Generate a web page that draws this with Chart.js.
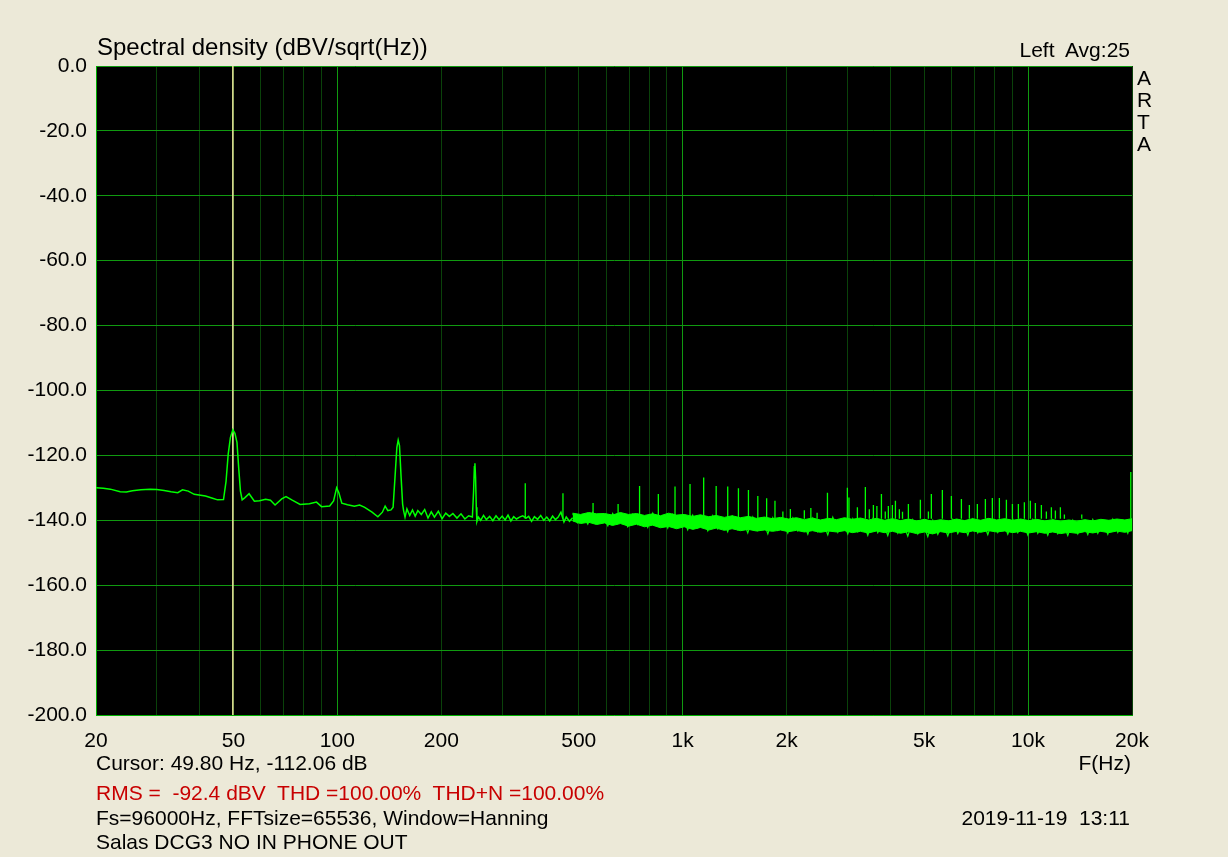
<!DOCTYPE html>
<html lang="en">
<head>
    <meta charset="UTF-8">
    <title>Spectral density</title>
    <script src="https://cdn.jsdelivr.net/npm/chart.js"></script>
    <style>
        body {
            margin: 0;
            background-color: #ECE9D8;
            font-family: "Liberation Sans", Arial, sans-serif;
        }

        #wrap {
            position: relative;
            width: 1228px;
            height: 857px;
        }

        .lbl {
            position: absolute;
            font-size: 21px;
            line-height: 1;
            color: #000;
            white-space: pre;
        }

        .red {
            color: #c80000;
        }
    </style>
</head>
<body>

<div id="wrap">
    <canvas id="myChart" width="1228" height="857"></canvas>
    <div class="lbl" style="left:97px; top:35px; font-size:24px;">Spectral density (dBV/sqrt(Hz))</div>
    <div class="lbl" style="right:98px; top:39px;">Left  Avg:25</div>
    <div class="lbl" style="left:1137px; top:67px; line-height:22px;">A<br>R<br>T<br>A</div>
    <div class="lbl" style="right:97px; top:752px;">F(Hz)</div>
    <div class="lbl" style="left:96px; top:752px;">Cursor: 49.80 Hz, -112.06 dB</div>
    <div class="lbl red" style="left:96px; top:782px;">RMS =  -92.4 dBV  THD =100.00%  THD+N =100.00%</div>
    <div class="lbl" style="left:96px; top:807px;">Fs=96000Hz, FFTsize=65536, Window=Hanning</div>
    <div class="lbl" style="right:98px; top:807px;">2019-11-19  13:11</div>
    <div class="lbl" style="left:96px; top:831px;">Salas DCG3 NO IN PHONE OUT</div>
</div>

<script>
    // spectrum trace, 20 Hz .. 480 Hz
    const lowFreq = [20, 21, 22, 23.5, 24.5, 25.5, 27, 28.7, 30, 31.5, 33, 34.5, 35.6, 37, 38.5, 41.5, 43.5, 45,
        46.8, 47.6, 48.3, 49.0, 49.8, 50.5, 51.2, 51.8, 52.4, 53, 54, 55.5, 57.5, 59.5, 62, 64, 66, 69, 71, 74, 78,
        83, 87, 90, 95, 97.5, 99.5, 101, 103, 107, 112, 116, 120, 126, 131, 135, 137.5, 140, 143,
        145, 147, 148.7, 150, 151.3, 153, 154.5, 155.5, 157, 159, 162, 165, 168, 171, 175, 179, 183, 187, 191,
        196, 201, 206, 211, 216, 222, 228, 234, 240, 246, 248, 249.3, 250.2, 251.3, 252.5, 253.5, 256, 260,
        265, 270, 276, 282, 288, 294, 300, 306, 312, 318, 324, 330, 337, 344, 352, 358, 365, 372, 380, 388,
        396, 404, 412, 420, 428, 436, 444, 453, 460, 470, 480];
    const lowDb = [-130.0, -130.1, -130.4, -131.2, -131.3, -130.9, -130.6, -130.4, -130.5, -130.8, -131.2, -131.5,
        -130.6, -131.0, -132.0, -132.5, -133.2, -133.7,
        -133.6, -128.0, -119.5, -114.5, -112.1, -113.2, -116.0, -124.0, -131.0, -133.7, -133.0, -131.8, -134.1,
        -134.0, -133.5, -133.8, -135.3, -133.4, -132.7, -133.8, -135.1,
        -134.9, -134.4, -135.8, -135.6, -134.0, -130.0, -131.5, -134.7, -135.2, -135.7, -135.3, -136.0, -137.5,
        -138.9, -137.5, -135.6, -137.0, -136.8,
        -136.0, -126.0, -117.5, -115.3, -117.0, -127.0, -135.0, -137.0, -139.0, -136.5, -138.5, -136.8, -138.7,
        -137.0, -138.2, -136.7, -139.3, -137.4, -139.0,
        -137.2, -139.5, -137.8, -138.8, -137.9, -139.3, -138.0, -139.6, -138.6, -139.0, -131.0, -123.5, -122.4,
        -127.0, -136.0, -140.4, -139.0, -140.0,
        -138.5, -139.8, -138.8, -140.1, -138.6, -139.8, -138.7, -139.9, -138.4, -140.2, -138.9, -139.6, -139.0,
        -138.6, -139.3, -138.8, -140.3, -138.9, -139.7, -138.5,
        -140.0, -139.0, -140.2, -138.7, -139.8, -139.0, -137.5, -140.5, -139.0, -140.3, -139.2];

    // dense noise floor above 480 Hz: upper and lower edge of the solid band
    const bandFreq = [480, 506, 534, 563, 594, 626, 660, 697, 735, 775, 818, 862, 910, 960, 1010, 1070, 1125, 1190,
        1250, 1320, 1390, 1470, 1550, 1635, 1725, 1820, 1920, 2025, 2135, 2250, 2375, 2505, 2645, 2790, 2940, 3100,
        3270, 3450, 3640, 3840, 4050, 4275, 4510, 4755, 5015, 5290, 5580, 5890, 6210, 6550, 6910, 7290, 7690, 8110,
        8560, 9030, 9520, 10040, 10600, 11180, 11790, 12440, 13120, 13840, 14600, 15400, 16250, 17140, 18080, 19070,
        20000];
    const bandHi = [-137.8, -138.2, -137.6, -138.0, -137.9, -138.4, -137.6, -138.2, -137.9, -138.5, -138.0, -138.6,
        -137.8, -138.4, -138.2, -138.8, -138.3, -138.9, -138.5, -139.1, -138.6, -139.2, -138.8, -139.4, -139.0, -139.5,
        -139.1, -139.6, -139.2, -139.8, -139.3, -139.9, -139.4, -139.8, -139.2, -139.7, -139.3, -139.9, -139.4, -140.0,
        -139.5, -140.1, -139.6, -140.2, -139.7, -140.3, -139.8, -140.2, -139.6, -140.1, -139.5, -140.0, -139.4, -139.9,
        -139.5, -140.0, -139.6, -140.1, -139.7, -140.2, -139.8, -140.3, -139.9, -140.3, -139.8, -140.2, -139.7, -140.0,
        -139.6, -139.9, -139.5];
    const bandLo = [-140.2, -141.0, -140.6, -141.3, -140.8, -141.6, -141.0, -141.8, -141.2, -142.0, -141.5, -142.3,
        -141.9, -142.6, -142.0, -142.8, -142.2, -143.0, -142.4, -143.1, -142.6, -143.2, -142.8, -143.3,
        -143.0, -143.4, -143.0, -143.5, -143.1, -143.6, -143.2, -143.7, -143.3, -143.6, -143.2, -143.8,
        -143.4, -143.9, -143.3, -143.8, -143.4, -144.0, -143.5, -144.1, -143.6, -144.2, -143.5, -143.9,
        -143.4, -143.8, -143.3, -143.7, -143.2, -143.6, -143.3, -143.8, -143.4, -143.9, -143.5, -144.0,
        -143.6, -144.1, -143.7, -144.0, -143.5, -143.9, -143.4, -143.8, -143.3, -143.7, -143.2];

    // ragged noise trace over the band
    const noiseFreq = [480, 496, 513, 531, 549, 567, 587, 607, 627, 648,
        670, 693, 717, 741, 766, 792, 819, 847, 876, 905,
        936, 968, 1000, 1034, 1069, 1106, 1143, 1182, 1222, 1263,
        1306, 1350, 1396, 1444, 1493, 1543, 1596, 1650, 1706, 1764,
        1823, 1885, 1949, 2015, 2084, 2154, 2227, 2303, 2381, 2462,
        2545, 2631, 2720, 2813, 2908, 3006, 3108, 3214, 3323, 3435,
        3552, 3672, 3797, 3925, 4058, 4196, 4338, 4485, 4637, 4795,
        4957, 5125, 5299, 5479, 5664, 5856, 6055, 6260, 6472, 6692,
        6918, 7153, 7395, 7646, 7905, 8173, 8450, 8737, 9033, 9339,
        9656, 9983, 10322, 10671, 11033, 11407, 11794, 12194, 12607, 13035,
        13477, 13934, 14406, 14895, 15400, 15922, 16462, 17020, 17597, 18194,
        18811, 19449, 20000];
    const noiseDb = [-137.9, -140.8, -138.3, -141.2, -137.6, -140.5, -138.8, -141.7, -137.9, -141.0,
        -138.5, -142.0, -138.1, -141.3, -139.0, -142.2, -137.8, -141.6, -138.7, -142.4,
        -138.2, -141.8, -139.1, -142.9, -138.4, -142.3, -139.3, -143.2, -138.6, -142.6,
        -139.5, -143.5, -138.8, -142.8, -139.6, -143.9, -139.0, -143.1, -139.8, -144.2,
        -139.2, -143.0, -140.0, -143.9, -139.3, -143.2, -140.2, -144.3, -139.4, -143.5,
        -140.4, -144.5, -139.1, -143.7, -140.0, -144.2, -139.5, -143.5, -140.3, -144.6,
        -139.6, -143.8, -140.5, -144.7, -139.8, -144.0, -140.6, -144.9, -139.9, -144.2,
        -140.8, -145.0, -140.0, -144.3, -140.6, -144.8, -139.8, -144.1, -140.4, -144.6,
        -139.7, -143.9, -140.3, -144.4, -139.6, -143.7, -140.2, -144.3, -139.7, -143.8,
        -140.4, -144.5, -139.8, -144.0, -140.5, -144.6, -139.9, -144.1, -140.6, -144.7,
        -140.0, -144.2, -140.4, -144.4, -139.8, -144.0, -140.2, -144.3, -139.7, -143.7,
        -140.1, -144.0, -140.0];

    // harmonic / hum spikes sticking out of the noise floor
    const spikeFreq = [350, 450, 550, 650, 750, 850, 950, 1050, 1150, 1250, 1350, 1450, 1550, 1650, 1750, 1850,
        1950, 2050, 2250, 2350, 2450, 2625, 2998, 3030, 3205, 3380, 3470, 3566, 3650, 3762, 3860, 3940, 4047, 4130,
        4240, 4330, 4503, 4878, 5146, 5248, 5648, 5998, 6412, 6762, 7132, 7524, 7882, 8260, 8656, 9010, 9376, 9758,
        10154, 10500, 10930, 11300, 11684, 12000, 12406, 12742, 14306, 19840];
    const spikeDb = [-128.6, -131.7, -134.7, -135.0, -129.4, -131.9, -129.6, -128.8, -126.8, -129.4, -129.6, -130.1,
        -130.7, -132.5, -133.2, -134.0, -137.3, -136.5, -136.9, -136.2, -137.7, -131.5, -130.0, -133.0, -136.0, -129.7,
        -136.6, -135.3, -135.6, -131.9, -137.3, -135.6, -135.3, -134.0, -136.6, -137.4, -135.0, -133.7, -137.3, -131.9,
        -130.7, -132.5, -133.4, -135.3, -135.0, -133.4, -133.1, -133.1, -133.7, -135.0, -135.0, -134.4, -134.0, -134.7,
        -135.3, -137.3, -136.0, -137.0, -136.0, -138.2, -138.2, -125.1];
    const spikeBase = -139.5;

    const cursorFreq = 49.8;

    // axes
    const xGrid = [20, 30, 40, 50, 60, 70, 80, 90, 100, 200, 300, 400, 500, 600, 700, 800, 900, 1000,
        2000, 3000, 4000, 5000, 6000, 7000, 8000, 9000, 10000, 20000];
    const xLabelVals = [20, 50, 100, 200, 500, 1000, 2000, 5000, 10000, 20000];
    const xLabelText = ['20', '50', '100', '200', '500', '1k', '2k', '5k', '10k', '20k'];
    const xMajor = [100, 1000, 10000];

    const pts = (xs, ys) => xs.map((f, i) => ({ x: f, y: ys[i] }));
    const spikes = [];
    spikeFreq.forEach((f, i) => {
        spikes.push({ x: f, y: spikeBase }, { x: f, y: spikeDb[i] }, { x: f, y: null });
    });

    const plotBg = {
        id: 'plotBg',
        beforeDraw(chart) {
            const a = chart.chartArea;
            const c = chart.ctx;
            c.save();
            c.fillStyle = '#000000';
            c.fillRect(a.left, a.top, a.right - a.left, a.bottom - a.top);
            c.restore();
        }
    };

    Chart.defaults.font.family = '"Liberation Sans", Arial, sans-serif';
    Chart.defaults.color = '#000000';

    const GREEN = '#00ff00';

    new Chart(document.getElementById('myChart'), {
        type: 'line',
        data: {
            datasets: [
                { data: pts(bandFreq, bandHi), borderColor: GREEN, borderWidth: 1, fill: false },
                { data: pts(bandFreq, bandLo), borderColor: GREEN, borderWidth: 1, backgroundColor: GREEN, fill: '-1' },
                { data: pts(noiseFreq, noiseDb), borderColor: GREEN, borderWidth: 1.2, fill: false },
                { data: pts(lowFreq, lowDb), borderColor: GREEN, borderWidth: 1.5, fill: false },
                { data: spikes, borderColor: GREEN, borderWidth: 1.3, fill: false, spanGaps: false },
                {
                    data: [{ x: cursorFreq, y: 0 }, { x: cursorFreq, y: -200 }],
                    borderColor: '#dcdc90', borderWidth: 1, fill: false
                }
            ]
        },
        options: {
            responsive: false,
            animation: false,
            layout: { padding: { top: 66, right: 96, left: 0, bottom: 0 } },
            elements: { point: { radius: 0 }, line: { tension: 0 } },
            plugins: {
                legend: { display: false },
                tooltip: { enabled: false }
            },
            scales: {
                x: {
                    type: 'logarithmic',
                    min: 20,
                    max: 20000,
                    afterBuildTicks: s => { s.ticks = xGrid.map(v => ({ value: v })); },
                    afterFit: s => { s.height = 142; },
                    grid: {
                        drawTicks: false,
                        lineWidth: 1,
                        color: c => (c.tick && xMajor.includes(c.tick.value)) ? '#109a10' : '#0a420a'
                    },
                    border: { color: '#00b000', width: 1 },
                    ticks: {
                        autoSkip: false,
                        maxRotation: 0,
                        padding: 14,
                        font: { size: 21 },
                        callback: v => {
                            const k = xLabelVals.indexOf(v);
                            return k >= 0 ? xLabelText[k] : '';
                        }
                    }
                },
                y: {
                    min: -200,
                    max: 0,
                    afterFit: s => { s.width = 96; },
                    grid: { drawTicks: false, color: '#109a10', lineWidth: 1 },
                    border: { color: '#00b000', width: 1 },
                    ticks: {
                        stepSize: 20,
                        padding: 9,
                        font: { size: 21 },
                        callback: v => v.toFixed(1)
                    }
                }
            }
        },
        plugins: [plotBg]
    });
</script>

</body>
</html>
